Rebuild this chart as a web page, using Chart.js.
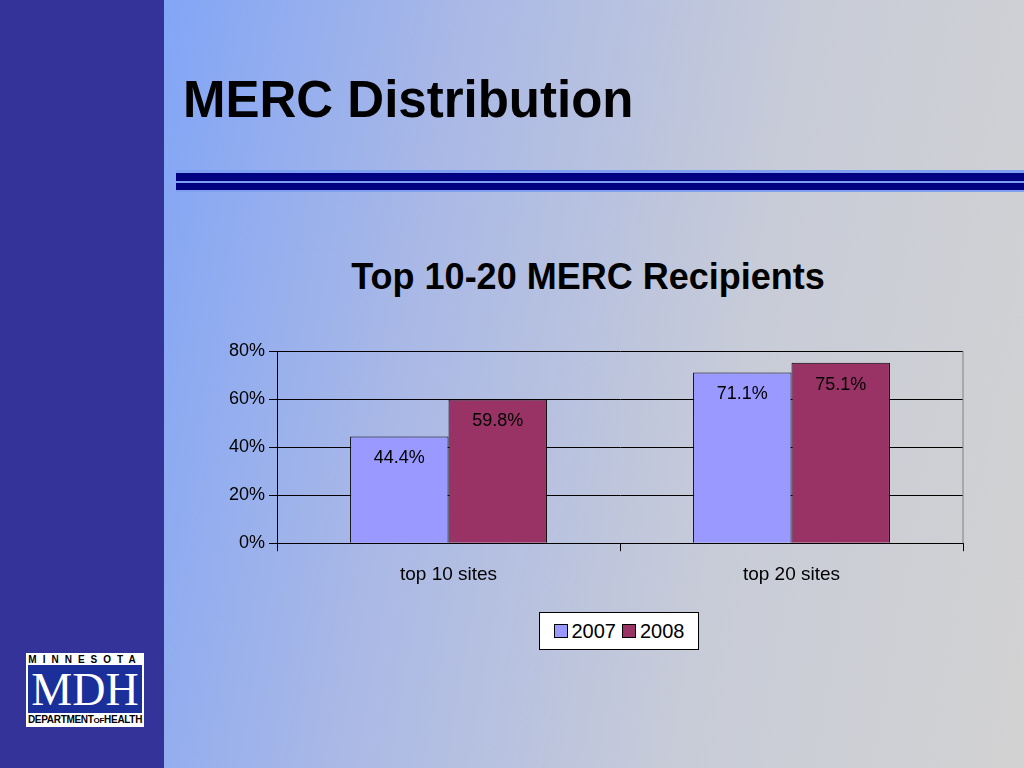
<!DOCTYPE html>
<html><head><meta charset="utf-8">
<script src="https://cdn.jsdelivr.net/npm/chart.js@4/dist/chart.umd.min.js"></script>
<style>
body{margin:0;width:1024px;height:768px;overflow:hidden;font-family:"Liberation Sans",Arial,sans-serif;position:relative;
background:linear-gradient(100deg,#6d9bff 0%,#a9b8e6 40%,#c8ccd8 70%,#d2d2d2 100%);}
#side{position:absolute;left:0;top:0;width:164px;height:768px;background:#333399;}
#title{position:absolute;left:183px;top:70px;font-size:51px;font-weight:bold;color:#000;}
.bar{position:absolute;left:176px;right:0;background:#000080;}
#ct{position:absolute;left:188px;width:800px;text-align:center;top:256px;font-size:36px;font-weight:bold;}
#legend{position:absolute;left:539px;top:612px;width:158px;height:36px;border:1px solid #000;background:#fff;font-size:20px;display:flex;align-items:center;justify-content:center;gap:6px}
.sw{display:inline-block;width:12px;height:12px;border:1px solid #000;margin-right:4px}
#logo{position:absolute;left:26px;top:653px;width:118px;height:74px;background:#fff;}
</style></head><body>
<div id="side"></div>
<div id="title">MERC Distribution</div>
<div style="position:absolute;left:176px;right:0;top:170px;height:22px;background:#7fa0f0"></div>
<div class="bar" style="top:173px;height:8px"></div>
<div class="bar" style="top:183px;height:7px"></div>
<div id="ct">Top 10-20 MERC Recipients</div>
<div id="logo">
 <div style="font-size:10px;font-weight:bold;letter-spacing:6px;text-align:center;margin-top:1px;">MINNESOTA</div>
 <div style="background:#1a2f99;color:#fff;font-family:'Liberation Serif',serif;font-size:46px;text-align:center;height:48px;line-height:50px;margin:0 2px;">MDH</div>
 <div style="font-size:10px;font-weight:bold;text-align:center;margin-top:1px;letter-spacing:-0.3px">DEPARTMENT<span style="font-size:8px">OF</span>HEALTH</div>
</div>
<div style="position:absolute;left:188px;top:330px;width:800px;height:270px"><canvas id="c"></canvas></div>
<div id="legend"><span><span class="sw" style="background:#9999ff"></span>2007</span><span><span class="sw" style="background:#993366"></span>2008</span></div>
<script>
const categories=["top 10 sites","top 20 sites"];
const series2007=[44.4,71.1];
const series2008=[59.8,75.1];
const yTicks=[0,20,40,60,80];
const labelsPlugin={id:'lbl',afterDatasetsDraw(ch){const x=ch.ctx;x.save();x.font='18px "Liberation Sans"';x.fillStyle='#000';x.textAlign='center';x.textBaseline='middle';
ch.data.datasets.forEach((d,i)=>{ch.getDatasetMeta(i).data.forEach((b,j)=>{x.fillText(d.data[j].toFixed(1)+'%',b.x,b.y+22);});});x.restore();}};
new Chart(document.getElementById('c'),{type:'bar',
data:{labels:categories,datasets:[
{label:'2007',data:series2007,backgroundColor:'#9999ff',borderColor:'#000',borderWidth:1,barPercentage:1,categoryPercentage:0.574},
{label:'2008',data:series2008,backgroundColor:'#993366',borderColor:'#000',borderWidth:1,barPercentage:1,categoryPercentage:0.574}]},
options:{responsive:true,maintainAspectRatio:false,animation:false,
layout:{padding:{top:21,right:25,bottom:2,left:37}},
plugins:{legend:{display:false},tooltip:{enabled:false}},
scales:{
x:{grid:{offset:true,color:'#000',drawOnChartArea:false,tickLength:8},border:{color:'#000'},ticks:{color:'#000',font:{size:19,family:'Liberation Sans'},padding:12}},
y:{min:0,max:80,afterBuildTicks(a){a.ticks=yTicks.map(v=>({value:v}));},grid:{color:'#000',tickLength:8},border:{color:'#000'},ticks:{color:'#000',font:{size:18,family:'Liberation Sans'},callback:v=>v+'%',padding:4}}}},
plugins:[labelsPlugin,{id:'rb',afterDraw(ch){const a=ch.chartArea,x=ch.ctx;x.save();x.strokeStyle='#808080';x.beginPath();x.moveTo(a.right,a.top);x.lineTo(a.right,a.bottom);x.stroke();x.restore();}}]});
</script></body></html>
